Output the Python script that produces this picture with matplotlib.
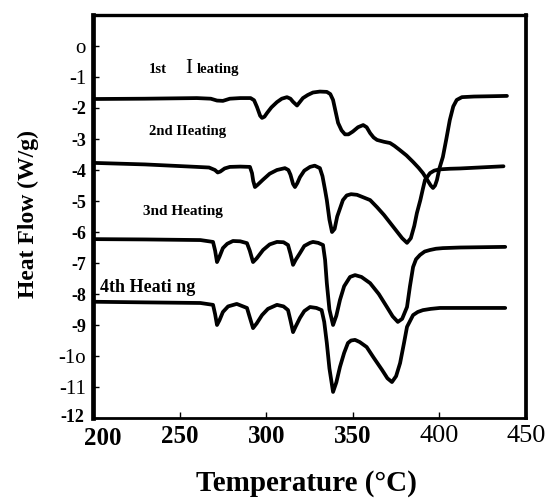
import matplotlib
matplotlib.use('Agg')
import matplotlib.pyplot as plt
from matplotlib.transforms import ScaledTranslation

plt.rcParams['font.family'] = ['Liberation Serif', 'DejaVu Serif']

# 1st heating
temp_1 = [200, 230, 260, 268, 271.6, 275, 279, 285, 291, 293, 294.7, 296.5, 297.6, 299, 300.5,
          303, 306.2, 309, 312, 314, 315.5, 317.8, 319.5, 321.2, 324, 327, 331, 335, 337, 338.6,
          340, 341.5, 343.5, 345.5, 347.5, 350, 353, 356, 358, 360, 362, 364, 368, 371.5, 374,
          377, 381, 384.8, 388, 390.5, 393, 395, 396.3, 397.5, 398.6, 400, 402, 404, 406, 408,
          410, 413, 420, 430, 439]
flow_1 = [-1.71, -1.70, -1.68, -1.70, -1.76, -1.77, -1.70, -1.68, -1.68, -1.75, -1.97, -2.25, -2.32, -2.28, -2.16,
          -1.98, -1.81, -1.70, -1.65, -1.70, -1.80, -1.92, -1.80, -1.68, -1.58, -1.50, -1.47, -1.48, -1.55, -1.74,
          -2.10, -2.48, -2.72, -2.85, -2.85, -2.76, -2.62, -2.55, -2.62, -2.81, -2.95, -3.03, -3.09, -3.13, -3.22,
          -3.35, -3.53, -3.74, -3.93, -4.10, -4.32, -4.50, -4.58, -4.50, -4.32, -3.95, -3.58, -3.00, -2.39, -1.95,
          -1.74, -1.65, -1.63, -1.62, -1.61]

# 2nd heating
temp_2 = [200, 230, 260, 267, 270.4, 272, 273.5, 276, 279, 285, 290.6, 291.8, 292.5, 293.5, 295,
          298, 302, 306.2, 310.8, 312.8, 314, 315.5, 316.6, 318, 319.5, 322, 325.3, 328, 331, 332.5,
          334, 335, 336.5, 338, 339.5, 341, 344.3, 346.5, 349, 352.4, 356, 360, 364, 368, 371.5,
          375, 378.5, 381.3, 383.5, 385.5, 387, 389, 390.5, 391.7, 394.6, 397, 400, 406, 412, 437]
flow_2 = [-3.77, -3.82, -3.90, -3.92, -4.00, -4.08, -4.05, -3.95, -3.90, -3.89, -3.90, -4.10, -4.35, -4.55, -4.48,
          -4.32, -4.12, -4.00, -3.94, -4.00, -4.15, -4.45, -4.55, -4.42, -4.23, -4.02, -3.90, -3.86, -3.94, -4.20,
          -4.65, -4.97, -5.60, -6.00, -5.90, -5.50, -4.97, -4.82, -4.78, -4.80, -4.88, -4.97, -5.20, -5.45, -5.70,
          -5.95, -6.20, -6.35, -6.20, -5.80, -5.39, -4.97, -4.60, -4.32, -4.10, -4.02, -3.98, -3.96, -3.95, -3.88]

# 3nd heating
temp_3 = [200, 230, 262, 269.3, 270.5, 271.6, 273, 275, 277.5, 280.8, 285, 288.9, 290.5, 292.4, 294.5,
          298.2, 302, 306.2, 310, 312.6, 314, 315.5, 317, 319.5, 322, 325.3, 327, 330, 332.8, 334,
          335, 336.5, 338.6, 340.5, 342.6, 345, 348.4, 351.3, 355, 360, 365, 369.7, 373, 376, 378.5,
          381.3, 383, 384.8, 386.5, 388.8, 391.5, 394.6, 398, 402, 412, 438]
flow_3 = [-6.23, -6.24, -6.26, -6.32, -6.60, -6.97, -6.80, -6.52, -6.38, -6.29, -6.30, -6.36, -6.60, -6.97, -6.85,
          -6.58, -6.40, -6.32, -6.33, -6.42, -6.70, -7.06, -6.90, -6.68, -6.45, -6.35, -6.32, -6.35, -6.42, -6.90,
          -7.65, -8.50, -9.00, -8.70, -8.19, -7.75, -7.45, -7.39, -7.45, -7.65, -8.00, -8.42, -8.72, -8.90, -8.80,
          -8.42, -7.75, -7.13, -6.88, -6.74, -6.63, -6.58, -6.54, -6.52, -6.50, -6.48]

# 4th heating
temp_4 = [200, 230, 262, 269.3, 270.5, 271.6, 273, 275, 278, 283, 288.9, 290.5, 292.4, 294.5, 297.6,
          301, 306.2, 310, 312.6, 314, 315.5, 317, 319.5, 322, 325.3, 329, 332, 333.5, 335, 336.5,
          338.6, 340.5, 342.6, 345, 347.2, 349, 351.3, 354, 358, 362, 366.9, 370, 372.6, 375, 377.3,
          379.5, 381.3, 384.8, 387.5, 390.5, 395, 400.3, 412, 438]
flow_4 = [-8.25, -8.27, -8.29, -8.35, -8.65, -9.00, -8.85, -8.58, -8.40, -8.32, -8.45, -8.75, -9.10, -8.95, -8.68,
          -8.48, -8.35, -8.40, -8.52, -8.85, -9.23, -9.05, -8.77, -8.55, -8.42, -8.45, -8.52, -8.90, -9.58, -10.40,
          -11.16, -10.85, -10.35, -9.90, -9.58, -9.50, -9.48, -9.55, -9.71, -10.05, -10.45, -10.72, -10.84, -10.65, -10.23,
          -9.60, -9.06, -8.68, -8.58, -8.52, -8.48, -8.45, -8.45, -8.45]

x_ticks = [200, 250, 300, 350, 400, 450]
x_weights = ['bold', 'bold', 'bold', 'bold', 'normal', 'normal']
y_ticks = [0, -1, -2, -3, -4, -5, -6, -7, -8, -9, -10, -11, -12]
y_labels = ['o', '-1', '-2', '-3', '-4', '-5', '-6', '-7', '-8', '-9', '-1o', '-11', '-12']
y_weights = ['normal', 'normal', 'bold', 'bold', 'bold', 'bold', 'bold', 'bold', 'bold', 'bold',
             'normal', 'normal', 'bold']

fig = plt.figure(figsize=(5.46, 4.98), dpi=100)
ax = fig.add_axes([93 / 546, 1 - 418 / 498, 433 / 546, 403 / 498])

for t, f in [(temp_1, flow_1), (temp_2, flow_2), (temp_3, flow_3), (temp_4, flow_4)]:
    ax.plot(t, f, color='black', lw=2.7, solid_joinstyle='round', solid_capstyle='round')

ax.set_xlim(200, 450)
ax.set_ylim(-12, 1)

ax.set_xticks(x_ticks)
ax.set_xticklabels([str(v) for v in x_ticks])
for lab, w in zip(ax.get_xticklabels(), x_weights):
    lab.set_fontweight(w)
    lab.set_fontsize(18 if w == 'bold' else 19)

ax.set_yticks(y_ticks)
ax.set_yticklabels(y_labels)
for lab, w in zip(ax.get_yticklabels(), y_weights):
    lab.set_fontweight(w)
    lab.set_fontsize(13 if w == 'bold' else 15)

ax.tick_params(direction='in', length=4, width=1, pad=5)
ax.tick_params(axis='x', pad=5)

# scan puts "200" a bit right of the corner and "-12" a bit higher
lab200 = ax.get_xticklabels()[0]
lab200.set_transform(lab200.get_transform() + ScaledTranslation(0.10, -0.02, fig.dpi_scale_trans))
lab12 = ax.get_yticklabels()[-1]
lab12.set_transform(lab12.get_transform() + ScaledTranslation(-0.02, 0.03, fig.dpi_scale_trans))

ax.spines['left'].set_linewidth(3.4)
ax.spines['right'].set_linewidth(2.7)
ax.spines['top'].set_linewidth(2.4)
ax.spines['bottom'].set_linewidth(2.0)

# curve labels (as they appear in the scan)
ax.text(232.3, -0.77, '1st', fontsize=10.5, fontweight='bold', va='center')
ax.text(253.2, -0.72, 'I', fontsize=15, va='center')
ax.text(260.0, -0.77, 'leating', fontsize=10.5, fontweight='bold', va='center')
ax.text(232.3, -2.77, '2nd IIeating', fontsize=10.5, fontweight='bold', va='center')
ax.text(228.9, -5.35, '3nd Heating', fontsize=11, fontweight='bold', va='center')
ax.text(204, -7.8, '4th Heati ng', fontsize=13, fontweight='bold', va='center')

fig.text(306 / 546, 1 - 483 / 498, 'Temperature (°C)', fontsize=21, fontweight='bold',
         ha='center', va='center')
fig.text(28 / 546, 1 - 214 / 498, 'Heat Flow (W/g)', fontsize=17, fontweight='bold',
         ha='center', va='center', rotation=90)

fig.savefig('out.png', dpi=100)
